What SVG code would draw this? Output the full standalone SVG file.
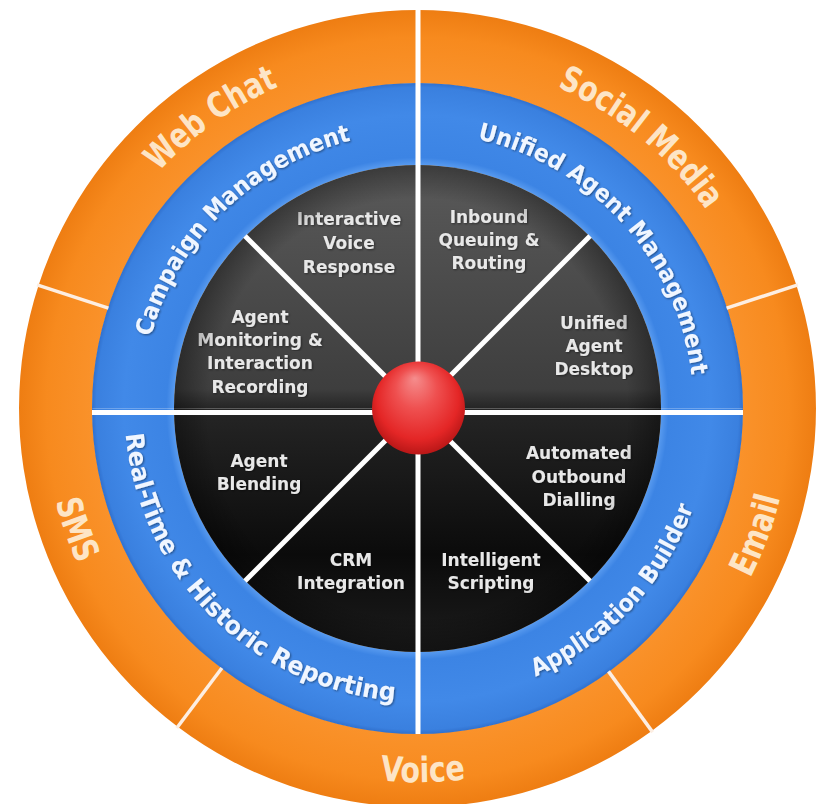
<svg xmlns="http://www.w3.org/2000/svg" width="823" height="804" viewBox="0 0 823 804">
  <defs>
    <radialGradient id="gOrange" gradientUnits="userSpaceOnUse" cx="417.5" cy="408.5" r="399">
      <stop offset="0.80" stop-color="#fa932c"/>
      <stop offset="0.93" stop-color="#f78a1e"/>
      <stop offset="1" stop-color="#ee7d12"/>
    </radialGradient>
    <radialGradient id="gBlue" gradientUnits="userSpaceOnUse" cx="417.5" cy="408.5" r="326">
      <stop offset="0.745" stop-color="#5a9cf0"/>
      <stop offset="0.77" stop-color="#3c84e4"/>
      <stop offset="0.9" stop-color="#4189e8"/>
      <stop offset="0.985" stop-color="#3a80df"/>
      <stop offset="1" stop-color="#2f6fcc"/>
    </radialGradient>
    <linearGradient id="gDark" gradientUnits="userSpaceOnUse" x1="0" y1="165" x2="0" y2="652">
      <stop offset="0" stop-color="#5a5a5a"/>
      <stop offset="0.46" stop-color="#3e3e3e"/>
      <stop offset="0.5" stop-color="#252525"/>
      <stop offset="0.8" stop-color="#0b0b0b"/>
      <stop offset="1" stop-color="#1c1c1c"/>
    </linearGradient>
    <radialGradient id="gVignette" gradientUnits="userSpaceOnUse" cx="417.5" cy="408.5" r="244">
      <stop offset="0.86" stop-color="#000" stop-opacity="0"/>
      <stop offset="1" stop-color="#000" stop-opacity="0.35"/>
    </radialGradient>
    <radialGradient id="gBall" cx="50%" cy="45%" r="55%" fx="46%" fy="18%">
      <stop offset="0" stop-color="#f58d8d"/>
      <stop offset="0.4" stop-color="#ef5050"/>
      <stop offset="0.8" stop-color="#e42626"/>
      <stop offset="1" stop-color="#b91717"/>
    </radialGradient>
    <filter id="fShadow" x="-5%" y="-5%" width="110%" height="110%">
      <feDropShadow dx="1" dy="1" stdDeviation="0.8" flood-color="#000" flood-opacity="0.45"/>
    </filter>

    <!-- label arcs: clockwise ones read with tops outward, anticlockwise ones with tops inward -->
    <path id="arcWebChat" d="M68.6,442.1 A350.5,350.5 0 0 1 563.0,89.6"/>
    <path id="arcSocial" d="M294.7,80.2 A350.5,350.5 0 0 1 763.2,466.3"/>
    <path id="arcEmail" d="M479.8,776.8 A373.5,373.5 0 0 0 705.3,170.5"/>
    <path id="arcVoice" d="M96.7,600.0 A373.5,373.5 0 0 0 743.6,590.7"/>
    <path id="arcSms" d="M133.5,166.0 A373.5,373.5 0 0 0 349.4,775.8"/>
    <path id="arcCampaign" d="M150.2,477.6 A276,276 0 0 1 491.3,142.6"/>
    <path id="arcUnified" d="M359.2,138.7 A276,276 0 0 1 680.2,492.9"/>
    <path id="arcAppBuilder" d="M351.6,694.0 A293,293 0 0 0 697.7,322.8"/>
    <path id="arcReporting" d="M134.1,334.1 A293,293 0 0 0 494.6,691.2"/>
  </defs>

  <style>
    .channel { fill: url(#gOrange); }
    .module { fill: url(#gBlue); }
    .core { fill: url(#gDark); }
    .lbl-channel { font-family: "DejaVu Sans", "Liberation Sans", sans-serif; font-weight: bold; font-size: 35px; fill: #fde5c6; }
    .lbl-module { font-family: "DejaVu Sans", "Liberation Sans", sans-serif; font-weight: bold; font-size: 24px; fill: #f0f6ff; filter: url(#fShadow); }
    .lbl-core { font-family: "DejaVu Sans", "Liberation Sans", sans-serif; font-weight: bold; font-size: 17px; fill: #e8e8e8; text-anchor: middle; filter: url(#fShadow); }
    .sep { stroke: #ffffff; stroke-width: 5; stroke-linecap: butt; fill: none; }
    .sep-thin { stroke: #fdeee2; stroke-width: 3.5; fill: none; }
  </style>

  <!-- outer ring: contact channels -->
  <g id="channel-web-chat">
    <path class="channel" d="M38.5,285.4 A398.5,398.5 0 0 1 417.5,10 L417.5,83.5 A325,325 0 0 0 108.4,308.1 Z"/>
    <text class="lbl-channel"><textPath href="#arcWebChat" startOffset="50%" text-anchor="middle" textLength="148" lengthAdjust="spacingAndGlyphs">Web Chat</textPath></text>
  </g>
  <g id="channel-social-media">
    <path class="channel" d="M417.5,10 A398.5,398.5 0 0 1 796.5,285.4 L726.6,308.1 A325,325 0 0 0 417.5,83.5 Z"/>
    <text class="lbl-channel"><textPath href="#arcSocial" startOffset="50%" text-anchor="middle" textLength="196" lengthAdjust="spacingAndGlyphs">Social Media</textPath></text>
  </g>
  <g id="channel-email">
    <path class="channel" d="M796.5,285.4 A398.5,398.5 0 0 1 651.7,730.9 L608.5,671.4 A325,325 0 0 0 726.6,308.1 Z"/>
    <text class="lbl-channel"><textPath href="#arcEmail" startOffset="50%" text-anchor="middle" textLength="86" lengthAdjust="spacingAndGlyphs">Email</textPath></text>
  </g>
  <g id="channel-voice">
    <path class="channel" d="M651.7,730.9 A398.5,398.5 0 0 1 177.7,726.7 L221.9,668.0 A325,325 0 0 0 608.5,671.4 Z"/>
    <text class="lbl-channel"><textPath href="#arcVoice" startOffset="50%" text-anchor="middle" textLength="86" lengthAdjust="spacingAndGlyphs">Voice</textPath></text>
  </g>
  <g id="channel-sms">
    <path class="channel" d="M177.7,726.7 A398.5,398.5 0 0 1 38.5,285.4 L108.4,308.1 A325,325 0 0 0 221.9,668.0 Z"/>
    <text class="lbl-channel"><textPath href="#arcSms" startOffset="50%" text-anchor="middle" textLength="67" lengthAdjust="spacingAndGlyphs">SMS</textPath></text>
  </g>

  <!-- middle ring: platform modules -->
  <g id="module-campaign-management">
    <path class="module" d="M92,408.5 A325.5,325.5 0 0 1 417.5,83 L417.5,165 A243.5,243.5 0 0 0 174,408.5 Z"/>
    <text class="lbl-module"><textPath href="#arcCampaign" startOffset="50%" text-anchor="middle" textLength="294" lengthAdjust="spacingAndGlyphs">Campaign Management</textPath></text>
  </g>
  <g id="module-unified-agent-management">
    <path class="module" d="M417.5,83 A325.5,325.5 0 0 1 743,408.5 L661,408.5 A243.5,243.5 0 0 0 417.5,165 Z"/>
    <text class="lbl-module"><textPath href="#arcUnified" startOffset="50%" text-anchor="middle" textLength="340" lengthAdjust="spacingAndGlyphs">Unified Agent Management</textPath></text>
  </g>
  <g id="module-application-builder">
    <path class="module" d="M743,408.5 A325.5,325.5 0 0 1 417.5,734 L417.5,652 A243.5,243.5 0 0 0 661,408.5 Z"/>
    <text class="lbl-module"><textPath href="#arcAppBuilder" startOffset="50%" text-anchor="middle" textLength="238" lengthAdjust="spacingAndGlyphs">Application Builder</textPath></text>
  </g>
  <g id="module-reporting">
    <path class="module" d="M417.5,734 A325.5,325.5 0 0 1 92,408.5 L174,408.5 A243.5,243.5 0 0 0 417.5,652 Z"/>
    <text class="lbl-module" style="font-size:25px"><textPath href="#arcReporting" startOffset="50%" text-anchor="middle" textLength="412" lengthAdjust="spacingAndGlyphs">Real-Time &amp; Historic Reporting</textPath></text>
  </g>

  <!-- inner disc: core functions -->
  <g id="core-agent-monitoring">
    <path class="core" d="M417.5,408.5 L174,408.5 A243.5,243.5 0 0 1 245.3,236.3 Z"/>
    <text class="lbl-core" x="260" y="323">Agent</text>
    <text class="lbl-core" x="260" y="346">Monitoring &amp;</text>
    <text class="lbl-core" x="260" y="369">Interaction</text>
    <text class="lbl-core" x="260" y="393">Recording</text>
  </g>
  <g id="core-ivr">
    <path class="core" d="M417.5,408.5 L245.3,236.3 A243.5,243.5 0 0 1 417.5,165 Z"/>
    <text class="lbl-core" x="349" y="225">Interactive</text>
    <text class="lbl-core" x="349" y="249">Voice</text>
    <text class="lbl-core" x="349" y="273">Response</text>
  </g>
  <g id="core-inbound-routing">
    <path class="core" d="M417.5,408.5 L417.5,165 A243.5,243.5 0 0 1 589.7,236.3 Z"/>
    <text class="lbl-core" x="489" y="223">Inbound</text>
    <text class="lbl-core" x="489" y="246">Queuing &amp;</text>
    <text class="lbl-core" x="489" y="269">Routing</text>
  </g>
  <g id="core-agent-desktop">
    <path class="core" d="M417.5,408.5 L589.7,236.3 A243.5,243.5 0 0 1 661,408.5 Z"/>
    <text class="lbl-core" x="594" y="329">Unified</text>
    <text class="lbl-core" x="594" y="352">Agent</text>
    <text class="lbl-core" x="594" y="375">Desktop</text>
  </g>
  <g id="core-outbound-dialling">
    <path class="core" d="M417.5,408.5 L661,408.5 A243.5,243.5 0 0 1 589.7,580.7 Z"/>
    <text class="lbl-core" x="579" y="459">Automated</text>
    <text class="lbl-core" x="579" y="483">Outbound</text>
    <text class="lbl-core" x="579" y="506">Dialling</text>
  </g>
  <g id="core-intelligent-scripting">
    <path class="core" d="M417.5,408.5 L589.7,580.7 A243.5,243.5 0 0 1 417.5,652 Z"/>
    <text class="lbl-core" x="491" y="566">Intelligent</text>
    <text class="lbl-core" x="491" y="589">Scripting</text>
  </g>
  <g id="core-crm-integration">
    <path class="core" d="M417.5,408.5 L417.5,652 A243.5,243.5 0 0 1 245.3,580.7 Z"/>
    <text class="lbl-core" x="351" y="566">CRM</text>
    <text class="lbl-core" x="351" y="589">Integration</text>
  </g>
  <g id="core-agent-blending">
    <path class="core" d="M417.5,408.5 L245.3,580.7 A243.5,243.5 0 0 1 174,408.5 Z"/>
    <text class="lbl-core" x="259" y="467">Agent</text>
    <text class="lbl-core" x="259" y="490">Blending</text>
  </g>
  <circle cx="417.5" cy="408.5" r="243.5" fill="url(#gVignette)" pointer-events="none"/>

  <!-- separators between segments -->
  <g id="connectors">
    <line class="sep" x1="418" y1="9" x2="418" y2="734"/>
    <line class="sep" x1="92" y1="412.5" x2="743" y2="412.5"/>
    <line class="sep" x1="445.8" y1="380.2" x2="590" y2="236"/>
    <line class="sep" x1="389.2" y1="380.2" x2="245" y2="236"/>
    <line class="sep" x1="445.8" y1="436.8" x2="590" y2="581"/>
    <line class="sep" x1="389.2" y1="436.8" x2="245" y2="581"/>
    <line class="sep-thin" x1="726.6" y1="308.1" x2="797.9" y2="284.9"/>
    <line class="sep-thin" x1="608.5" y1="671.4" x2="652.6" y2="732.1"/>
    <line class="sep-thin" x1="221.9" y1="668.0" x2="176.8" y2="728.0"/>
    <line class="sep-thin" x1="108.4" y1="308.1" x2="37.1" y2="284.9"/>
  </g>

  <!-- central hub -->
  <g id="hub">
    <circle cx="418.5" cy="408" r="46.5" fill="url(#gBall)"/>
  </g>
</svg>
